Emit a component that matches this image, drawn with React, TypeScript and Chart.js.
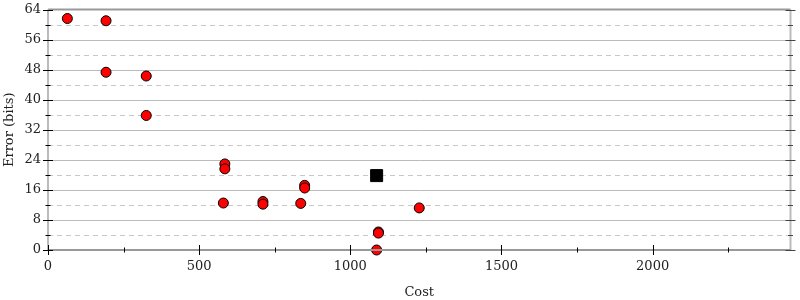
import React, { useEffect, useRef } from 'react';
import { Chart, registerables } from 'chart.js';

Chart.register(...registerables);

// Data
const costs = [64, 192, 192, 325, 325, 585, 585, 580, 711, 711, 836, 849, 849, 1093, 1093, 1087, 1228];
const errors = [61.6, 61.0, 47.3, 46.3, 35.8, 22.9, 21.6, 12.5, 12.9, 12.2, 12.4, 17.2, 16.5, 4.8, 4.5, 0, 11.2];
const bestCost = [1087];
const bestError = [19.8];

const xMin = 0;
const xMax = 2456;
const xTickValues = [0, 250, 500, 750, 1000, 1250, 1500, 1750, 2000, 2250];
const xLabelValues = [0, 500, 1000, 1500, 2000];
const yMin = 0;
const yMax = 64;
const yTickValues = [0, 4, 8, 12, 16, 20, 24, 28, 32, 36, 40, 44, 48, 52, 56, 60, 64];
const yLabelValues = [0, 8, 16, 24, 32, 40, 48, 56, 64];

const xTitle = 'Cost';
const yTitle = 'Error (bits)';

const FONT = 'DejaVu Serif';

const crisp = (v: number) => Math.round(v) + 0.5;

const axesPlugin = {
  id: 'customAxes',
  beforeDatasetsDraw(chart: any) {
    const { ctx, chartArea: a, scales } = chart;
    const y = scales.y;
    ctx.save();
    ctx.lineWidth = 1;
    y.ticks.forEach((t: any) => {
      if (t.value === yMax) return;
      const py = crisp(y.getPixelForValue(t.value));
      const major = yLabelValues.includes(t.value);
      ctx.strokeStyle = major ? '#bbbbbb' : '#c8c8c8';
      ctx.setLineDash(major ? [] : [5, 4]);
      ctx.beginPath();
      ctx.moveTo(a.left, py);
      ctx.lineTo(a.right, py);
      ctx.stroke();
    });
    ctx.restore();
  },
  afterDatasetsDraw(chart: any) {
    const { ctx, chartArea: a, scales } = chart;
    const x = scales.x;
    const y = scales.y;
    ctx.save();
    ctx.setLineDash([]);
    // top border
    ctx.strokeStyle = '#999999';
    ctx.lineWidth = 2;
    ctx.beginPath();
    ctx.moveTo(a.left, a.top);
    ctx.lineTo(a.right, a.top);
    ctx.stroke();
    // left and right axes
    ctx.strokeStyle = '#bbbbbb';
    ctx.lineWidth = 2;
    ctx.beginPath();
    ctx.moveTo(a.left, a.top);
    ctx.lineTo(a.left, a.bottom);
    ctx.moveTo(a.right, a.top);
    ctx.lineTo(a.right, a.bottom);
    ctx.stroke();
    // bottom axis
    ctx.strokeStyle = '#999999';
    ctx.lineWidth = 2;
    ctx.beginPath();
    ctx.moveTo(a.left, a.bottom);
    ctx.lineTo(a.right, a.bottom);
    ctx.stroke();
    // y tick marks
    ctx.lineWidth = 1;
    y.ticks.forEach((t: any) => {
      const py = crisp(y.getPixelForValue(t.value));
      const major = yLabelValues.includes(t.value);
      const len = major ? 5 : 2.5;
      ctx.strokeStyle = '#000000';
      ctx.beginPath();
      ctx.moveTo(a.left - len, py);
      ctx.lineTo(a.left + len, py);
      ctx.stroke();
      ctx.strokeStyle = '#444444';
      ctx.beginPath();
      ctx.moveTo(a.right - len, py);
      ctx.lineTo(a.right + len, py);
      ctx.stroke();
    });
    // x tick marks
    ctx.strokeStyle = '#000000';
    x.ticks.forEach((t: any) => {
      const px = crisp(x.getPixelForValue(t.value));
      const major = xLabelValues.includes(t.value);
      const len = major ? 5 : 2.5;
      ctx.beginPath();
      ctx.moveTo(px, a.bottom - len);
      ctx.lineTo(px, a.bottom + len);
      ctx.stroke();
    });
    ctx.restore();
  },
};

export default function App() {
  const canvasRef = useRef<HTMLCanvasElement | null>(null);

  useEffect(() => {
    document.body.style.margin = '0';
    const canvas = canvasRef.current;
    if (!canvas) return;
    const points = costs.map((c, i) => ({ x: c, y: errors[i] }));
    const best = bestCost.map((c, i) => ({ x: c, y: bestError[i] }));
    const chart = new Chart(canvas, {
      type: 'scatter',
      data: {
        datasets: [
          {
            label: 'candidates',
            data: points,
            pointStyle: 'circle',
            pointRadius: 5,
            backgroundColor: '#ff0000',
            borderColor: '#000000',
            borderWidth: 1,
            clip: false as any,
          },
          {
            label: 'best',
            data: best,
            pointStyle: 'rect',
            pointRadius: 8.5,
            backgroundColor: '#000000',
            borderColor: '#000000',
            borderWidth: 1,
            clip: false as any,
          },
        ],
      },
      options: {
        animation: false,
        responsive: false,
        maintainAspectRatio: false,
        layout: { padding: { top: 8, right: 6, left: 0, bottom: 0 } },
        plugins: {
          legend: { display: false },
          tooltip: { enabled: false },
        },
        scales: {
          x: {
            type: 'linear',
            min: xMin,
            max: xMax,
            grid: { display: false, drawTicks: false },
            border: { display: false },
            afterBuildTicks: (s: any) => {
              s.ticks = xTickValues.map((v) => ({ value: v }));
            },
            ticks: {
              autoSkip: false,
              maxRotation: 0,
              minRotation: 0,
              padding: 9,
              color: '#222222',
              font: { family: FONT, size: 13 },
              callback: (v: any) => (xLabelValues.includes(Number(v)) ? String(v) : ''),
            },
            title: {
              display: true,
              text: xTitle,
              color: '#222222',
              font: { family: FONT, size: 13 },
              padding: { top: 0, bottom: 0 },
            },
            afterFit: (s: any) => {
              s.height = 50;
              s.paddingLeft = 0;
              s.paddingRight = 0;
            },
          },
          y: {
            type: 'linear',
            min: yMin,
            max: yMax,
            grid: { display: false, drawTicks: false },
            border: { display: false },
            afterBuildTicks: (s: any) => {
              s.ticks = yTickValues.map((v) => ({ value: v }));
            },
            ticks: {
              autoSkip: false,
              padding: 7,
              color: '#222222',
              font: { family: FONT, size: 13 },
              callback: (v: any) => (yLabelValues.includes(Number(v)) ? String(v) : ''),
            },
            title: {
              display: true,
              text: yTitle,
              color: '#222222',
              font: { family: FONT, size: 13 },
              padding: { top: 2, bottom: 0 },
            },
            afterFit: (s: any) => {
              s.width = 48;
              s.paddingTop = 0;
              s.paddingBottom = 0;
            },
          },
        },
      },
      plugins: [axesPlugin],
    });
    return () => chart.destroy();
  }, []);

  return (
    <div style={{ width: 800, height: 300 }}>
      <canvas ref={canvasRef} width={800} height={300} style={{ display: 'block' }} />
    </div>
  );
}
